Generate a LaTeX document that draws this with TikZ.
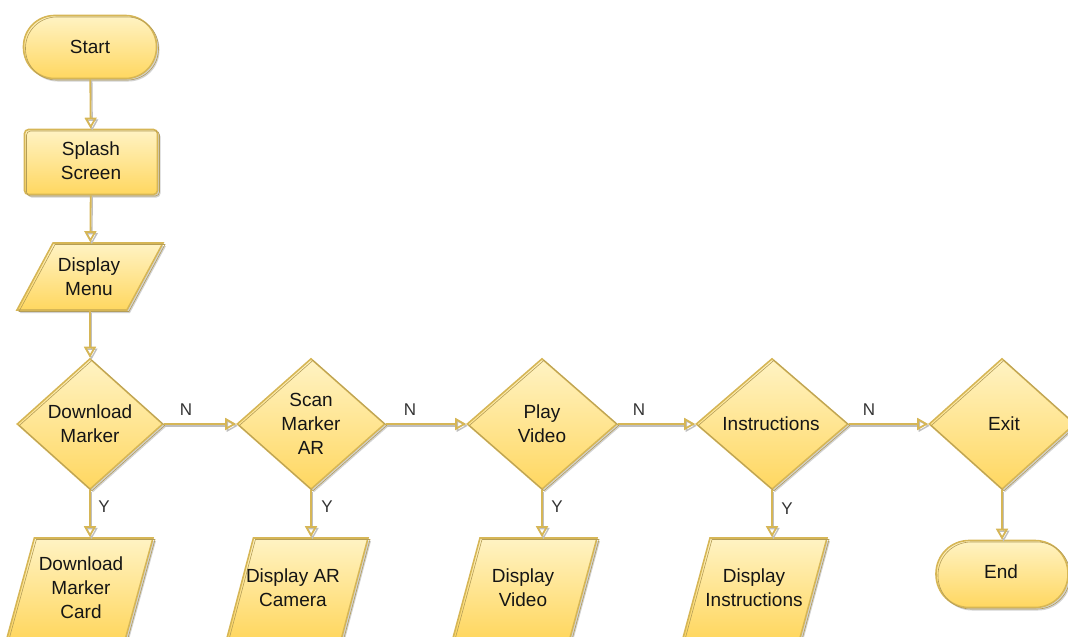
\documentclass[tikz,border=0pt]{standalone}
\usepackage{fontspec}
\setmainfont{Liberation Sans}
\usetikzlibrary{shapes.geometric,arrows.meta,shadows}
\definecolor{ystroke}{HTML}{D6B656}
\definecolor{ytop}{HTML}{FFF3C4}
\definecolor{ybot}{HTML}{FFD760}
\definecolor{txtc}{HTML}{151515}
\definecolor{lblc}{HTML}{333333}
\tikzset{
  shapebox/.style={draw=ystroke, line width=1.6pt, top color=ytop, bottom color=ybot,
    inner sep=0pt, drop shadow={shadow xshift=3pt, shadow yshift=-3pt, fill=black!35},
    postaction={draw=ystroke!80!black!90, line width=0.6pt, transform canvas={xshift=2pt,yshift=-1.5pt}}},
  terminal/.style={shapebox, rectangle, rounded corners=31pt, minimum width=133pt, minimum height=63pt},
  procbox/.style={shapebox, rectangle, rounded corners=4pt, minimum width=133pt, minimum height=65pt},
  decision/.style={shapebox, diamond, minimum width=148pt, minimum height=131pt},
  iobox/.style={shapebox, trapezium, inner sep=1pt, trapezium stretches=true, minimum height=100pt,
    trapezium left angle=73.3, trapezium right angle=106.7},
  txt/.style={font=\fontsize{19}{24}\selectfont, text=txtc, align=center, inner sep=0pt},
  lbl/.style={font=\fontsize{17}{20}\selectfont, text=lblc, inner sep=0pt},
  conn/.style={draw=ystroke, line width=1.8pt, -{Triangle[open,length=11pt,width=12pt]},
    preaction={draw=black!25, line width=1.4pt, transform canvas={xshift=1.5pt,yshift=-1.8pt}}}
}
\begin{document}
\begin{tikzpicture}[x=1pt,y=-1pt]
\path[use as bounding box, clip] (0,0) rectangle (1068,637);
% shapes
\node[terminal] (start) at (90,47) {};
\node[procbox] (splash) at (91,162) {};
\node[iobox, minimum width=146pt, minimum height=67pt,
  trapezium left angle=64, trapezium right angle=116] (menu) at (90,276.5) {};
\node[decision, minimum width=146pt] (d1) at (90,424) {};
\node[decision] (d2) at (311,424) {};
\node[decision, minimum width=150pt] (d3) at (542,424) {};
\node[decision, minimum width=152pt] (d4) at (772,424) {};
\node[decision, minimum width=146pt] (d5) at (1002,424) {};
\node[iobox, minimum width=146pt] (p1) at (80,588) {};
\node[iobox, minimum width=141pt] (p2) at (297.5,588) {};
\node[iobox, minimum width=144pt] (p3) at (525,588) {};
\node[iobox, minimum width=144pt] (p4) at (755,588) {};
\node[terminal, minimum width=132pt, minimum height=67pt, rounded corners=33pt] (end) at (1002,574) {};
% texts
\node[txt] (tstart) at (90,47) {Start};
\node[txt] (tsplash) at (91,161) {Splash\\Screen};
\node[txt] (tmenu) at (89,277) {Display\\Menu};
\node[txt] (td1) at (90,424) {Download\\Marker};
\node[txt] (td2) at (311,424) {Scan\\Marker\\AR};
\node[txt] (td3) at (542,424) {Play\\Video};
\node[txt] (td4) at (771,424) {Instructions};
\node[txt] (td5) at (1004,424) {Exit};
\node[txt] (tp1) at (81,588) {Download\\Marker\\Card};
\node[txt] (tp2) at (293,588) {Display AR\\Camera};
\node[txt] (tp3) at (523,588) {Display\\Video};
\node[txt] (tp4) at (754,588) {Display\\Instructions};
\node[txt] (tend) at (1001,572) {End};
% connectors
\draw[conn] (start) -- (splash);
\draw[conn] (splash) -- (menu);
\draw[conn] (menu.south) -- (d1.north);
\draw[conn] (d1.east) -- (d2.west);
\draw[conn] (d2.east) -- (d3.west);
\draw[conn] (d3.east) -- (d4.west);
\draw[conn] (d4.east) -- (d5.west);
\draw[conn] (d1.south) -- (d1.south |- p1.north);
\draw[conn] (d2.south) -- (d2.south |- p2.north);
\draw[conn] (d3.south) -- (d3.south |- p3.north);
\draw[conn] (d4.south) -- (d4.south |- p4.north);
\draw[conn] (d5.south) -- (d5.south |- end.north);
% labels
\node[lbl] (n1) at (186,410) {N};
\node[lbl] (n2) at (410,410) {N};
\node[lbl] (n3) at (639,410) {N};
\node[lbl] (n4) at (869,410) {N};
\node[lbl] (y1) at (104,507) {Y};
\node[lbl] (y2) at (327,507) {Y};
\node[lbl] (y3) at (557,507) {Y};
\node[lbl] (y4) at (787,509) {Y};
\end{tikzpicture}
\end{document}
